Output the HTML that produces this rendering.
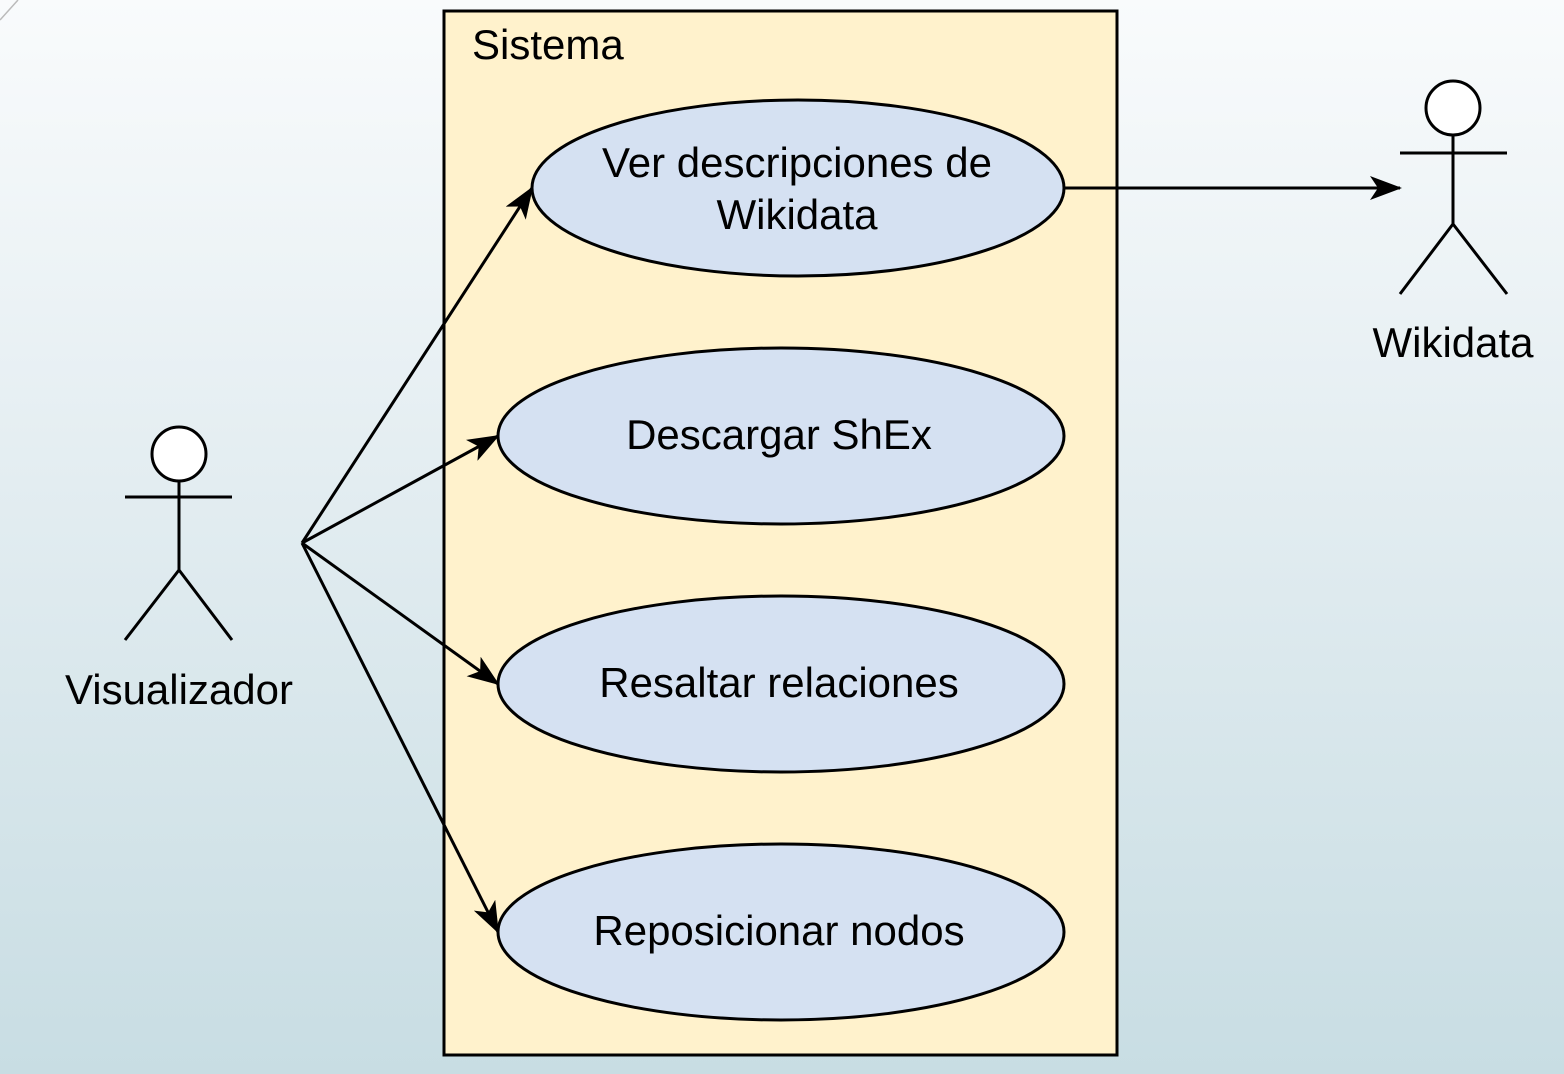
<!DOCTYPE html>
<html><head><style>
html,body{margin:0;padding:0;}
body{width:1564px;height:1074px;overflow:hidden;background:linear-gradient(to bottom,#f9fbfc 0%,#e3edf1 45%,#c8dde3 100%);}
svg{display:block;}
text{font-family:"Liberation Sans",sans-serif;fill:#000;}
</style></head><body>
<svg width="1564" height="1074" viewBox="0 0 1564 1074">
<defs>
<marker id="b" markerWidth="32" markerHeight="24" refX="30" refY="12" orient="auto" markerUnits="userSpaceOnUse" viewBox="0 0 32 24">
<path d="M0,0 L32,12 L0,24 L8,12 Z" fill="#000"/></marker></defs>
<line x1="0" y1="20" x2="18" y2="0" stroke="#bbb" stroke-width="1.5"/>
<rect x="444" y="11" width="673" height="1044" fill="#fff2cc" stroke="#000" stroke-width="3"/>
<text x="472" y="59" font-size="42">Sistema</text>
<g fill="#d5e1f2" stroke="#000" stroke-width="3">
<ellipse cx="798" cy="188" rx="266" ry="88"/>
<ellipse cx="781" cy="436" rx="283" ry="88"/>
<ellipse cx="781" cy="684" rx="283" ry="88"/>
<ellipse cx="781" cy="932" rx="283" ry="88"/>
</g>
<g font-size="42" text-anchor="middle">
<text x="797" y="177">Ver descripciones de</text>
<text x="797" y="229">Wikidata</text>
<text x="779" y="449">Descargar ShEx</text>
<text x="779" y="697">Resaltar relaciones</text>
<text x="779" y="945">Reposicionar nodos</text>
<text x="179" y="704">Visualizador</text>
<text x="1453" y="357">Wikidata</text>
</g>
<g stroke="#000" stroke-width="3" fill="none">
<line x1="302" y1="543" x2="532" y2="188" marker-end="url(#b)"/>
<line x1="302" y1="543" x2="498" y2="436" marker-end="url(#b)"/>
<line x1="302" y1="543" x2="498" y2="684" marker-end="url(#b)"/>
<line x1="302" y1="543" x2="498" y2="932" marker-end="url(#b)"/>
<line x1="1064" y1="188" x2="1400" y2="188" marker-end="url(#b)"/>
<circle cx="179" cy="454" r="27" fill="#fff"/>
<path d="M179 481 V570 M125 497 H232 M179 570 L125 640 M179 570 L232 640"/>
<circle cx="1453" cy="108" r="27" fill="#fff"/>
<path d="M1453 135 V224 M1400 153 H1507 M1453 224 L1400 294 M1453 224 L1507 294"/>
</g>
</svg>
</body></html>
